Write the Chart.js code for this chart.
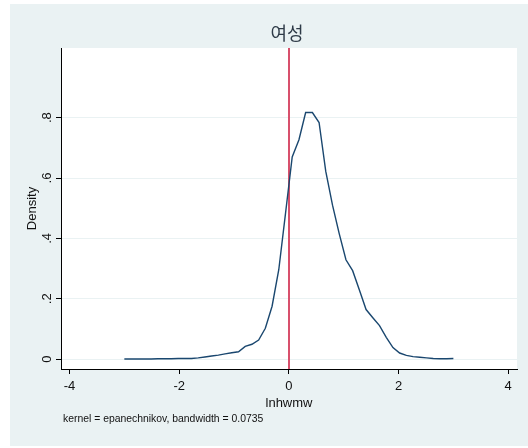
<!DOCTYPE html>
<html>
<head>
<meta charset="utf-8">
<script src="https://cdn.jsdelivr.net/npm/chart.js@4/dist/chart.umd.min.js"></script>
<style>
html,body{margin:0;padding:0;background:#fff;}
#wrap{width:528px;height:448px;position:relative;}
</style>
</head>
<body>
<div id="wrap"><canvas id="c" width="528" height="448"></canvas></div>
<script>
// ---- data ----
const titleText = "여성";
const xTitle = "lnhwmw";
const yTitle = "Density";
const noteText = "kernel = epanechnikov, bandwidth = 0.0735";
const xTickValues = [-4, -2, 0, 2, 4];
const xTickLabels = ["-4", "-2", "0", "2", "4"];
const yTickValues = [0, 0.2, 0.4, 0.6, 0.8];
const yTickLabels = ["0", ".2", ".4", ".6", ".8"];
const xLineAt = [0];
const densityX = [-3.000,-2.878,-2.755,-2.633,-2.510,-2.388,-2.265,-2.143,-2.020,-1.898,-1.776,-1.653,-1.531,-1.408,-1.286,-1.163,-1.041,-0.918,-0.796,-0.673,-0.551,-0.429,-0.306,-0.184,-0.061,0.061,0.184,0.306,0.429,0.551,0.673,0.796,0.918,1.041,1.163,1.286,1.408,1.531,1.653,1.776,1.898,2.020,2.143,2.265,2.388,2.510,2.633,2.755,2.878,3.000];
const densityY = [0.000,0.000,0.000,0.000,0.000,0.001,0.001,0.001,0.002,0.002,0.002,0.004,0.007,0.010,0.013,0.017,0.021,0.024,0.042,0.049,0.063,0.102,0.175,0.296,0.483,0.670,0.727,0.817,0.817,0.784,0.622,0.510,0.416,0.329,0.293,0.229,0.164,0.137,0.111,0.072,0.038,0.020,0.012,0.008,0.006,0.004,0.002,0.001,0.001,0.002];

const points = densityX.map((x, i) => ({x: x, y: densityY[i]}));

const BG = '#EAF2F3';
const LATIN = '"Liberation Sans", Arial, sans-serif';

const decor = {
  id: 'decor',
  beforeDraw(chart) {
    const ctx = chart.ctx, a = chart.chartArea;
    ctx.save();
    ctx.fillStyle = '#ffffff';
    ctx.fillRect(0, 0, chart.width, chart.height);
    ctx.fillStyle = BG;
    ctx.fillRect(10, 4, chart.width - 10, 442);
    ctx.fillStyle = '#ffffff';
    ctx.fillRect(a.left, a.top, a.right - a.left, a.bottom - a.top);
    ctx.restore();
  },
  beforeDatasetsDraw(chart) {
    const ctx = chart.ctx, a = chart.chartArea, xs = chart.scales.x;
    ctx.save();
    ctx.strokeStyle = '#D8506C';
    ctx.lineWidth = 2;
    xLineAt.forEach(v => {
      const px = Math.round(xs.getPixelForValue(v));
      ctx.beginPath();
      ctx.moveTo(px, a.top);
      ctx.lineTo(px, a.bottom);
      ctx.stroke();
    });
    ctx.restore();
  },
  afterDraw(chart) {
    const ctx = chart.ctx, a = chart.chartArea, xs = chart.scales.x, ys = chart.scales.y;
    ctx.save();
    ctx.fillStyle = '#111';
    // x tick labels
    ctx.font = '13px ' + LATIN;
    ctx.textAlign = 'center';
    ctx.textBaseline = 'alphabetic';
    xTickValues.forEach((v, i) => {
      ctx.fillText(xTickLabels[i], xs.getPixelForValue(v), 390);
    });
    // x title
    ctx.fillText(xTitle, (a.left + a.right) / 2, 407);
    // y tick labels (rotated)
    yTickValues.forEach((v, i) => {
      ctx.save();
      ctx.translate(47, ys.getPixelForValue(v));
      ctx.rotate(-Math.PI / 2);
      ctx.textAlign = 'center';
      ctx.textBaseline = 'middle';
      ctx.fillText(yTickLabels[i], 0, 0);
      ctx.restore();
    });
    // y title
    ctx.save();
    ctx.translate(32, (a.top + a.bottom) / 2);
    ctx.rotate(-Math.PI / 2);
    ctx.textAlign = 'center';
    ctx.textBaseline = 'middle';
    ctx.fillText(yTitle, 0, 0);
    ctx.restore();
    // note
    ctx.font = '10.4px ' + LATIN;
    ctx.textAlign = 'left';
    ctx.textBaseline = 'alphabetic';
    ctx.fillText(noteText, 63, 422);
    // title
    ctx.fillStyle = '#2f3b48';
    ctx.font = '18px "Noto Sans CJK KR", sans-serif';
    ctx.textAlign = 'center';
    ctx.textBaseline = 'middle';
    ctx.fillText(titleText, (a.left + a.right) / 2 - 2, 33);
    ctx.restore();
  }
};

new Chart(document.getElementById('c'), {
  type: 'line',
  data: {
    datasets: [{
      data: points,
      borderColor: '#1A476F',
      borderWidth: 1.4,
      pointRadius: 0,
      fill: false,
      tension: 0
    }]
  },
  options: {
    responsive: false,
    animation: false,
    events: [],
    layout: {padding: {left: 0, top: 48, right: 11, bottom: 0}},
    plugins: {legend: {display: false}, tooltip: {enabled: false}, title: {display: false}},
    scales: {
      x: {
        type: 'linear',
        min: -4.155,
        max: 4.16,
        afterBuildTicks: s => { s.ticks = xTickValues.map(v => ({value: v})); },
        afterFit: s => { s.height = 79; },
        ticks: {display: false},
        grid: {drawOnChartArea: false, drawTicks: true, tickLength: 5, tickColor: '#000', tickWidth: 1},
        border: {display: true, color: '#000', width: 1}
      },
      y: {
        type: 'linear',
        min: -0.033,
        max: 1.031,
        afterBuildTicks: s => { s.ticks = yTickValues.map(v => ({value: v})); },
        afterFit: s => { s.width = 61; },
        ticks: {display: false},
        grid: {drawOnChartArea: true, color: BG, lineWidth: 1, drawTicks: true, tickLength: 5, tickColor: '#000', tickWidth: 1},
        border: {display: true, color: '#000', width: 1}
      }
    }
  },
  plugins: [decor]
});
</script>
</body>
</html>
